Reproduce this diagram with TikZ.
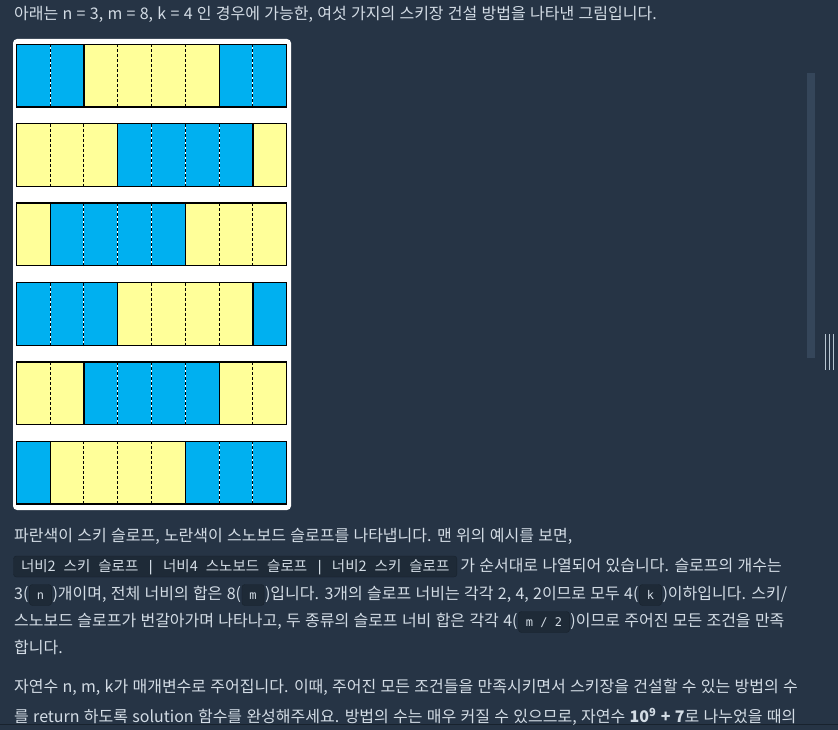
\documentclass[tikz,border=0pt]{standalone}
\usepackage{fontspec}
\setmainfont{Noto Sans CJK KR}[WordSpace=1.2]
\newfontfamily\codefont{DejaVu Sans Mono}
\usetikzlibrary{positioning}

\definecolor{pagebg}{HTML}{263445}
\definecolor{bodytext}{HTML}{D3DCE5}
\definecolor{codebg}{HTML}{1E2A37}
\definecolor{codeline}{HTML}{18222D}
\definecolor{skiblue}{HTML}{00B0F0}
\definecolor{boardyellow}{HTML}{FFFF99}
\definecolor{trackgrey}{HTML}{35465A}
\definecolor{gripgrey}{HTML}{B8C6D2}

\newcommand\bodyfont{\fontsize{16}{19}\selectfont}
\newcommand\cgap{\hspace{8pt}}

% strip geometry (1 unit = 1 pixel)
\def\cellx{16.3}
\def\cellw{33.8}
\def\rowy{44.3}
\def\rowgap{79.4}
\def\rowh{62.7}
% one slope: [style](first cell,row)(width)
\def\slope[#1](#2,#3)(#4){%
  \draw[#1] ({\cellx+#2*\cellw},{\rowy+#3*\rowgap}) rectangle ++({#4*\cellw},\rowh);
  \ifnum#4>1
    \pgfmathtruncatemacro\seamlast{#4-1}%
    \foreach \s in {1,...,\seamlast}{%
      \draw[#1 gap] ({\cellx+(#2+\s)*\cellw},{\rowy+#3*\rowgap}) -- ++(0,\rowh);
      \draw[seam] ({\cellx+(#2+\s)*\cellw},{\rowy+#3*\rowgap}) -- ++(0,\rowh);
    }%
  \fi
}

\begin{document}
\begin{tikzpicture}[x=1pt,y=-1pt,
    ski/.style={fill=skiblue, draw=black, line width=1.2pt},
    board/.style={fill=boardyellow, draw=black, line width=1.2pt},
    ski gap/.style={draw=white, line width=1pt},
    board gap/.style={draw=none},
    seam/.style={draw=black, line width=1pt, dash pattern=on 3pt off 2pt},
    txt/.style={anchor=base west, inner sep=0pt, text=bodytext, font=\bodyfont},
    code/.style={fill=codebg, draw=codeline, rounded corners=3pt, inner xsep=7.5pt,
      inner ysep=5pt, text height=10pt, text depth=1pt, text=bodytext,
      font=\codefont\fontsize{12}{14}\selectfont}]
		%%%%% PAGE %%%%%
		\useasboundingbox (0,0) rectangle (838,730);
		\fill[pagebg] (0,0) rectangle (838,730);
		\draw[codeline, line width=0.8pt] (0,724.5) -- (838,724.5);
		
		% scroll bar
		\fill[trackgrey] (807,73) rectangle (815,358);
		\draw[gripgrey, line width=1.5pt] (825.5,334) -- (825.5,370);
		\draw[gripgrey, line width=1.5pt] (829.5,334) -- (829.5,370);
		\draw[gripgrey, line width=1.5pt] (833.5,334) -- (833.5,370);
		
		\node[txt] (intro) at (14,19.5) {아래는 n = 3, m = 8, k = 4 인 경우에 가능한, 여섯 가지의 스키장 건설 방법을 나타낸 그림입니다.};
		
		%%%%% SIX LAYOUTS %%%%%
		\fill[white, rounded corners=4pt] (13,39) rectangle (291,510);
		
		\slope[ski](0,0)(2) \slope[board](2,0)(4) \slope[ski](6,0)(2)
		\slope[board](0,1)(3) \slope[ski](3,1)(4) \slope[board](7,1)(1)
		\slope[board](0,2)(1) \slope[ski](1,2)(4) \slope[board](5,2)(3)
		\slope[ski](0,3)(3) \slope[board](3,3)(4) \slope[ski](7,3)(1)
		\slope[board](0,4)(2) \slope[ski](2,4)(4) \slope[board](6,4)(2)
		\slope[ski](0,5)(1) \slope[board](1,5)(4) \slope[ski](5,5)(3)
		
		%%%%% TEXT %%%%%
		\node[txt] (p2a) at (14,541.5) {파란색이 스키 슬로프, 노란색이 스노보드 슬로프를 나타냅니다. 맨 위의 예시를 보면,};
		\node[code, anchor=base west, font=\fontsize{14.5}{16}\selectfont] (order) at (13.3,571) {너비2\cgap 스키\cgap 슬로프\cgap{\codefont|}\cgap 너비4\cgap 스노보드\cgap 슬로프\cgap{\codefont|}\cgap 너비2\cgap 스키\cgap 슬로프};
		\node[txt, base right=3pt of order] (p2b) {가 순서대로 나열되어 있습니다. 슬로프의 개수는};
		
		\node[txt] (p2c) at (14,599.5) {3(};
		\node[code, base right=0.5pt of p2c] (argn) {n};
		\node[txt, base right=0.5pt of argn] (p2d) {)개이며, 전체 너비의 합은 8(};
		\node[code, base right=0.5pt of p2d] (argm) {m};
		\node[txt, base right=0.5pt of argm] (p2e) {)입니다. 3개의 슬로프 너비는 각각 2, 4, 2이므로 모두 4(};
		\node[code, base right=0.5pt of p2e] (argk) {k};
		\node[txt, base right=0.5pt of argk] (p2f) {)이하입니다. 스키/};
		
		\node[txt] (p2g) at (14,626.5) {스노보드 슬로프가 번갈아가며 나타나고, 두 종류의 슬로프 너비 합은 각각 4(};
		\node[code, base right=0.5pt of p2g] (arghalf) {m / 2};
		\node[txt, base right=0.5pt of arghalf] (p2h) {)이므로 주어진 모든 조건을 만족};
		\node[txt] (p2i) at (14,653.5) {합니다.};
		
		\node[txt] (p3a) at (14,692.5) {자연수 n, m, k가 매개변수로 주어집니다. 이때, 주어진 모든 조건들을 만족시키면서 스키장을 건설할 수 있는 방법의 수};
		\node[txt] (p3b) at (14,722.5) {를 return 하도록 solution 함수를 완성해주세요. 방법의 수는 매우 커질 수 있으므로, 자연수 \textbf{10\textsuperscript{9} + 7}로 나누었을 때의};
		
		%%%%% END %%%%%
	\end{tikzpicture}
\end{document}
